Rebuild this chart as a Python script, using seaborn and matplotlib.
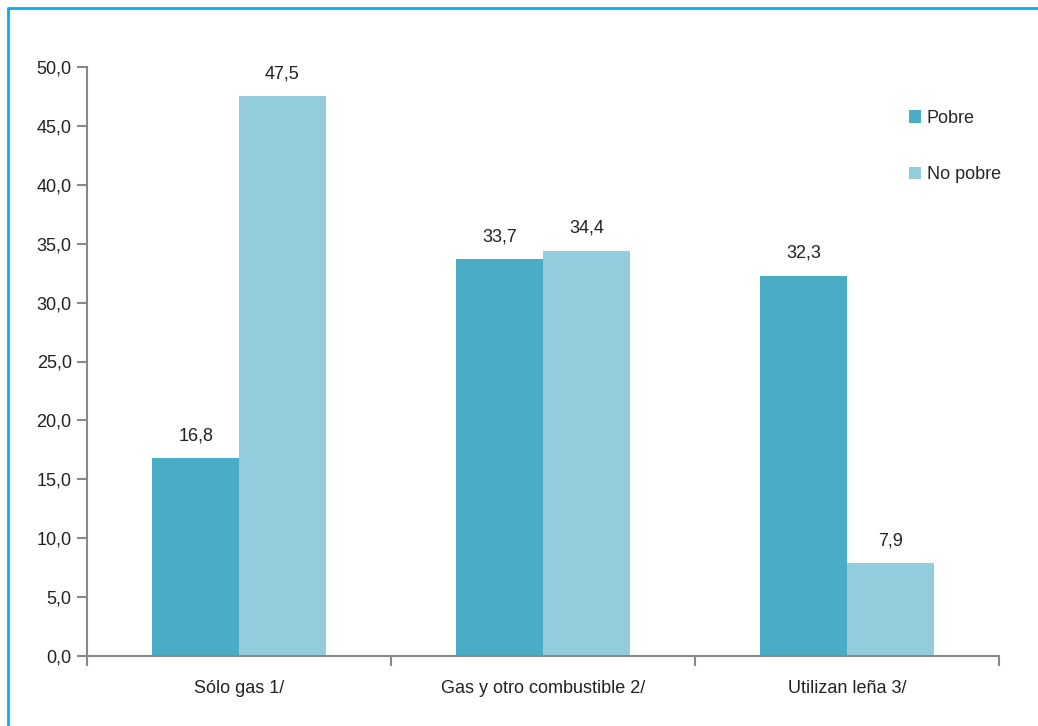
import matplotlib
matplotlib.use("Agg")
import matplotlib.pyplot as plt
import seaborn as sns
import pandas as pd
from matplotlib.ticker import FuncFormatter, FixedLocator
from matplotlib.lines import Line2D

categories = ["Sólo gas 1/", "Gas y otro combustible 2/", "Utilizan leña 3/"]
series_names = ["Pobre", "No pobre"]
pobre = [16.8, 33.7, 32.3]
no_pobre = [47.5, 34.4, 7.9]
colors = ["#4BACC6", "#93CDDD"]

sns.set_theme(style="white")
plt.rcParams["font.family"] = ["Liberation Sans", "DejaVu Sans"]

df = pd.DataFrame({
    "cat": categories * 2,
    "serie": [series_names[0]] * 3 + [series_names[1]] * 3,
    "val": pobre + no_pobre,
})

fig = plt.figure(figsize=(10.38, 7.26), dpi=100)
ax = fig.add_axes([87 / 1038, 1 - 656 / 726, (999 - 87) / 1038, (656 - 67) / 726])

sns.barplot(data=df, x="cat", y="val", hue="serie", palette=colors,
            width=0.57, saturation=1, ax=ax, legend=True, errorbar=None,
            linewidth=0, edgecolor="none")

ax.set_ylim(0, 50)
ax.set_xlim(-0.5, 2.5)
ax.set_yticks([i * 5 for i in range(11)])
ax.yaxis.set_major_formatter(FuncFormatter(lambda v, p: f"{v:.1f}".replace(".", ",")))
ax.set_xlabel("")
ax.set_ylabel("")

for c in ax.containers:
    ax.bar_label(c, labels=[f"{v:.1f}".replace(".", ",") for v in c.datavalues],
                 padding=10, fontsize=13, color="#222222")

for s in ["top", "right"]:
    ax.spines[s].set_visible(False)
for s in ["left", "bottom"]:
    ax.spines[s].set_color("#888888")
    ax.spines[s].set_linewidth(1.5)

ax.tick_params(axis="y", which="both", left=True, length=7, width=1.5, color="#888888",
               labelsize=13, labelcolor="#222222", pad=4)
ax.tick_params(axis="x", which="major", bottom=False, labelsize=13, labelcolor="#222222", pad=11)
ax.xaxis.set_minor_locator(FixedLocator([-0.5, 0.5, 1.5, 2.5]))
ax.tick_params(axis="x", which="minor", bottom=True, length=7, width=1.5, color="#888888")

leg = ax.legend(loc="upper left", bbox_to_anchor=(0.883, 0.955), frameon=False,
                fontsize=13, handlelength=0.7, handleheight=0.7, handletextpad=0.3,
                labelspacing=2.2)

fig.add_artist(Line2D([8 / 1038, 1], [1 - 8 / 726, 1 - 8 / 726], color="#00B0F0", lw=2))
fig.add_artist(Line2D([8 / 1038, 8 / 1038], [0, 1 - 8 / 726], color="#00B0F0", lw=2))

fig.savefig("out.png", dpi=100, facecolor="white")
